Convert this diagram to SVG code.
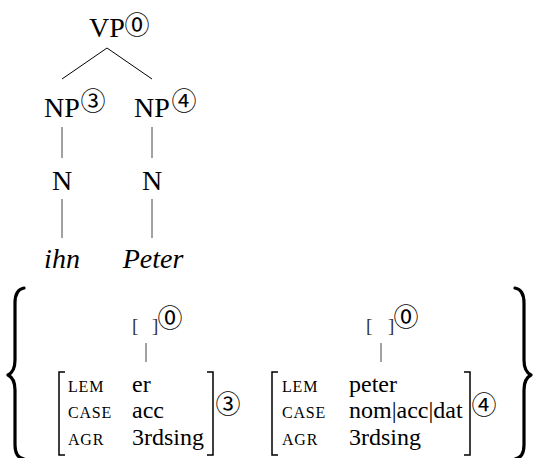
<svg xmlns="http://www.w3.org/2000/svg" width="539" height="458" viewBox="0 0 539 458">
<style>
.t{font-family:"Liberation Serif",serif;font-size:28px;fill:#000}
.ti{font-family:"Liberation Serif",serif;font-size:28px;font-style:italic;fill:#000}
.v{font-family:"Liberation Serif",serif;font-size:24px;fill:#000}
.l{font-family:"Liberation Serif",serif;font-size:16px;letter-spacing:0.8px;fill:#000}
.c{font-family:"Noto Sans CJK JP",sans-serif;font-size:25px;fill:#000}
.k{font-family:"Liberation Serif",serif;font-size:19px;fill:#333}
.e{stroke:#000;stroke-width:1;fill:none}
.g{stroke:#444;stroke-width:1;fill:none}
.b{stroke:#000;stroke-width:1.5;fill:none}
.br{stroke:#000;stroke-width:3.2;fill:none;stroke-linecap:round;stroke-linejoin:round}
</style>
<g id="connectors">
<line class="e" x1="107" y1="48" x2="62" y2="79"/>
<line class="e" x1="107" y1="48" x2="152" y2="79"/>
<line class="g" x1="62" y1="127" x2="62" y2="158"/>
<line class="g" x1="152" y1="127" x2="152" y2="158"/>
<line class="g" x1="62" y1="199" x2="62" y2="238"/>
<line class="g" x1="152" y1="199" x2="152" y2="238"/>
<line class="g" x1="146" y1="343" x2="146" y2="362"/>
<line class="g" x1="381" y1="343" x2="381" y2="362"/>
</g>
<g id="VP"><text class="t" x="107" y="37" text-anchor="middle">VP</text><text class="c" x="137" y="33.5" text-anchor="middle">⓪</text></g>
<g id="NP3"><text class="t" x="62" y="117" text-anchor="middle">NP</text><text class="c" x="93" y="109.5" text-anchor="middle">③</text></g>
<g id="NP4"><text class="t" x="152" y="117" text-anchor="middle">NP</text><text class="c" x="184" y="109.5" text-anchor="middle">④</text></g>
<g id="N1"><text class="t" x="62" y="190" text-anchor="middle">N</text></g>
<g id="N2"><text class="t" x="152" y="190" text-anchor="middle">N</text></g>
<g id="ihn"><text class="ti" x="62" y="268" text-anchor="middle">ihn</text></g>
<g id="Peter"><text class="ti" x="153" y="268" text-anchor="middle">Peter</text></g>
<g id="set">
<path class="br" d="M24,288 C18,289 15,294 15,303 L15,360 C15,368 12,373 8,375 C12,377 15,382 15,390 L15,445 C15,454 18,458 24,459"/>
<path class="br" d="M515,288 C521,289 524,294 524,303 L524,360 C524,368 527,373 531,375 C527,377 524,382 524,390 L524,445 C524,454 521,458 515,459"/>
</g>
<g id="top-left"><text class="k" x="132" y="332">[</text><text class="k" x="152" y="332">]</text><text class="c" x="170" y="326.5" text-anchor="middle">⓪</text></g>
<g id="top-right"><text class="k" x="366" y="332">[</text><text class="k" x="388" y="332">]</text><text class="c" x="406" y="325.5" text-anchor="middle">⓪</text></g>
<g id="avm-left">
<path class="b" d="M65,372 H59 V455 H65 M207,372 H213 V455 H207"/>
<text class="l" x="68" y="392">LEM</text><text class="v" x="132" y="392">er</text>
<text class="l" x="68" y="418">CASE</text><text class="v" x="132" y="418">acc</text>
<text class="l" x="68" y="445">AGR</text><text class="v" x="132" y="445">3rdsing</text>
<text class="c" x="228" y="412.5" text-anchor="middle">③</text>
</g>
<g id="avm-right">
<path class="b" d="M278,372 H272 V455 H278 M464,372 H470 V455 H464"/>
<text class="l" x="282" y="392">LEM</text><text class="v" x="349" y="392">peter</text>
<text class="l" x="282" y="418">CASE</text><text class="v" x="349" y="418">nom|acc|dat</text>
<text class="l" x="282" y="445">AGR</text><text class="v" x="349" y="445">3rdsing</text>
<text class="c" x="484" y="414" text-anchor="middle">④</text>
</g>
</svg>
